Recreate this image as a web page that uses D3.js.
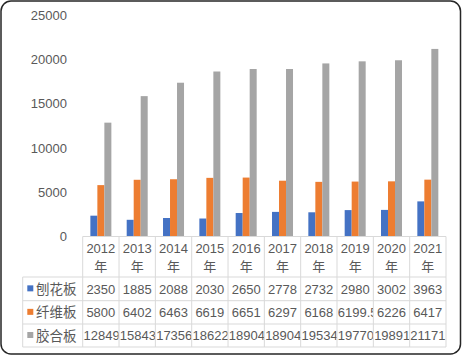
<!DOCTYPE html>
<html><head><meta charset="utf-8">
<script src="https://cdn.jsdelivr.net/npm/d3@7/dist/d3.min.js"></script>
<style>
html,body{margin:0;padding:0;background:#fff;}
svg{display:block;}
text{font-family:"Liberation Sans","Noto Sans CJK SC",sans-serif;fill:#595959;}
</style></head><body>
<svg id="c" width="462" height="356"></svg>
<script>
const years = ["2012","2013","2014","2015","2016","2017","2018","2019","2020","2021"];
const yearSuffix = "年";
const seriesNames = ["刨花板","纤维板","胶合板"];
const particleboard = [2350,1885,2088,2030,2650,2778,2732,2980,3002,3963];
const fiberboard = [5800,6402,6463,6619,6651,6297,6168,6199.5,6226,6417];
const plywood = [12849,15843,17356,18622,18904,18904,19534,19770,19891,21171];
const colors = ["#4472C4","#ED7D31","#A5A5A5"];
const yTicks = [0,5000,10000,15000,20000,25000];

const svg = d3.select("#c");
const W = 462, H = 356;
svg.append("rect").attr("x",1).attr("y",1).attr("width",W-2.5).attr("height",H-3)
  .attr("rx",10).attr("ry",10).attr("fill","#fff").attr("stroke","#262626").attr("stroke-width",1.5);

const left = 82.7, right = 446, y0 = 236.5, yTop = 15;
const x = d3.scaleBand().domain(years).range([left,right]);
const y = d3.scaleLinear().domain([0,25000]).range([y0,yTop]);
const data = [particleboard, fiberboard, plywood];
const barW = 7;
const xs = d3.scaleBand().domain(seriesNames).range([0,barW*3]);

// y axis labels
const yAxis = d3.axisLeft(y).tickValues(yTicks).tickSize(0).tickPadding(0).tickFormat(d3.format("d"));
const gy = svg.append("g").attr("transform","translate(67,0)").call(yAxis);
gy.select(".domain").remove();
gy.selectAll("text").attr("font-size","13px").attr("fill","#595959").style("font-family",'"Liberation Sans",sans-serif');

// bars
seriesNames.forEach((s,si)=>{
  svg.append("g").selectAll("rect").data(data[si]).join("rect")
    .attr("x",(d,i)=>x(years[i]) + x.bandwidth()/2 - barW*1.5 + xs(s))
    .attr("y",d=>y(d)).attr("width",barW).attr("height",d=>y0-y(d))
    .attr("fill",colors[si]);
});

// table
const rowY = [236.5, 277, 300.7, 324, 347];
const labelLeft = 22.7;
const g = svg.append("g");
const lc = "#D9D9D9";
g.append("line").attr("x1",left).attr("x2",right).attr("y1",rowY[0]).attr("y2",rowY[0]).attr("stroke",lc);
for(let r=1;r<rowY.length;r++){
  g.append("line").attr("x1",labelLeft).attr("x2",right).attr("y1",rowY[r]).attr("y2",rowY[r]).attr("stroke",lc);
}
const vx = years.map(d=>x(d)).concat([right]);
vx.forEach(v=>g.append("line").attr("x1",v).attr("x2",v).attr("y1",rowY[0]).attr("y2",rowY[4]).attr("stroke",lc));
g.append("line").attr("x1",labelLeft).attr("x2",labelLeft).attr("y1",rowY[1]).attr("y2",rowY[4]).attr("stroke",lc);

years.forEach(yr=>{
  const cx = x(yr)+x.bandwidth()/2;
  g.append("text").attr("x",cx).attr("y",252.5).attr("text-anchor","middle").attr("font-size","13px").text(yr);
  g.append("text").attr("x",cx).attr("y",271).attr("text-anchor","middle").attr("font-size","13px")
    .style("font-family",'"Noto Sans CJK SC",sans-serif').text(yearSuffix);
});

const defs = svg.append("defs");
years.forEach((yr,i)=>{
  defs.append("clipPath").attr("id","cl"+i).append("rect")
    .attr("x",x(yr)+0.5).attr("y",rowY[1]).attr("width",x.bandwidth()-1).attr("height",rowY[4]-rowY[1]);
});

seriesNames.forEach((s,si)=>{
  const ty = (rowY[si+1]+rowY[si+2])/2;
  g.append("rect").attr("x",27.3).attr("y",ty-3.5).attr("width",6).attr("height",6).attr("fill",colors[si]);
  g.append("text").attr("x",36).attr("y",ty+5).attr("font-size","13.5px")
    .style("font-family",'"Noto Sans CJK SC",sans-serif').text(s);
  data[si].forEach((v,i)=>{
    const str = String(v);
    const cx = x(years[i]);
    const bw = x.bandwidth();
    const t = g.append("text").attr("y",ty+4.7).attr("font-size","13px")
      .attr("clip-path","url(#cl"+i+")").text(str);
    const tw = t.node().getComputedTextLength();
    if(tw > bw-1){
      t.attr("x",cx+0.8).attr("text-anchor","start");
    } else {
      t.attr("x",cx+bw/2).attr("text-anchor","middle");
    }
  });
});
</script>
</body></html>
